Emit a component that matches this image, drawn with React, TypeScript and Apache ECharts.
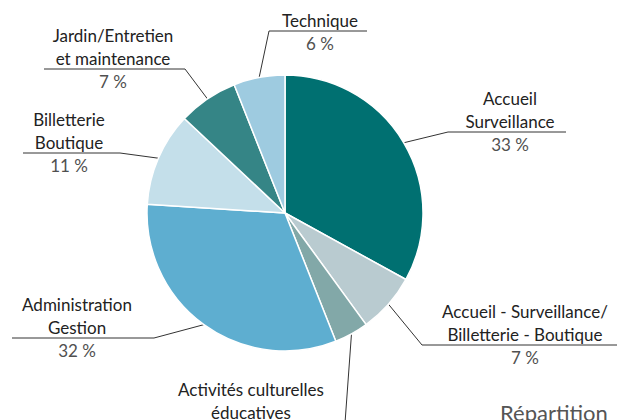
import React, { useEffect, useRef } from "react";
import * as echarts from "echarts";

const nameLines: string[][] = [
  ["Accueil", "Surveillance"],
  ["Accueil - Surveillance/", "Billetterie - Boutique"],
  ["Activités culturelles", "éducatives"],
  ["Administration", "Gestion"],
  ["Billetterie", "Boutique"],
  ["Jardin/Entretien", "et maintenance"],
  ["Technique"],
];
const shares: number[] = [33, 7, 4, 32, 11, 7, 6];
const colors: string[] = ["#007071", "#b9cbd0", "#82a8a8", "#5eaed0", "#c4dfea", "#358586", "#9ecbe0"];

// label placement: text centre x, underline y, elbow x, end x
const placement = [
  { cx: 510, uy: 132, ex: 448, ox: 566 },
  { cx: 525, uy: 345, ex: 422, ox: 617 },
  { cx: 251, uy: 423, ex: 345, ox: 175 },
  { cx: 77, uy: 338, ex: 154, ox: 12 },
  { cx: 69, uy: 153, ex: 120, ox: 23 },
  { cx: 113, uy: 69, ex: 185, ox: 44 },
  { cx: 320, uy: 31, ex: 269, ox: 367 },
];

const LH = 23;
const FONT = "Lato, 'Open Sans', sans-serif";

export default function App() {
  const ref = useRef<HTMLDivElement>(null);
  useEffect(() => {
    document.body.style.margin = "0";
    if (!ref.current) return;
    const chart = echarts.init(ref.current, null, { renderer: "svg" });
    const data = shares.map((v, i) => ({
      value: v,
      name: nameLines[i].join(" "),
      itemStyle: { color: colors[i] },
    }));
    chart.setOption({
      animation: false,
      graphic: [
        {
          type: "text",
          left: 500,
          top: 401,
          style: { text: "Répartition", font: `22px ${FONT}`, fill: "#555" },
        },
      ],
      series: [
        {
          type: "pie",
          center: [285, 213],
          radius: 138,
          startAngle: 90,
          clockwise: true,
          data,
          itemStyle: { borderColor: "#fff", borderWidth: 1.5 },
          label: {
            show: true,
            formatter: (p: any) => {
              const lines = nameLines[p.dataIndex].map((l) => `{n|${l}}`);
              return lines.join("\n") + `\n{p|${p.value} %}`;
            },
            rich: {
              n: { fontFamily: FONT, fontSize: 17, color: "#222", lineHeight: LH, align: "center" },
              p: { fontFamily: FONT, fontSize: 17, color: "#505050", lineHeight: LH, align: "center" },
            },
            align: "center",
          },
          labelLine: {
            show: true,
            lineStyle: { color: "#333", width: 1 },
          },
          labelLayout: (params: any) => {
            const i = params.dataIndex;
            const pl = placement[i];
            const n = nameLines[i].length;
            const top = pl.uy - n * LH + 1;
            const start = params.labelLinePoints ? params.labelLinePoints[0] : [pl.ex, pl.uy];
            return {
              x: pl.cx,
              y: top,
              align: "center",
              verticalAlign: "top",
              labelLinePoints: [start, [pl.ex, pl.uy], [pl.ox, pl.uy]],
            };
          },
        },
      ],
    });
    return () => chart.dispose();
  }, []);
  return <div ref={ref} style={{ width: 626, height: 420 }} />;
}
